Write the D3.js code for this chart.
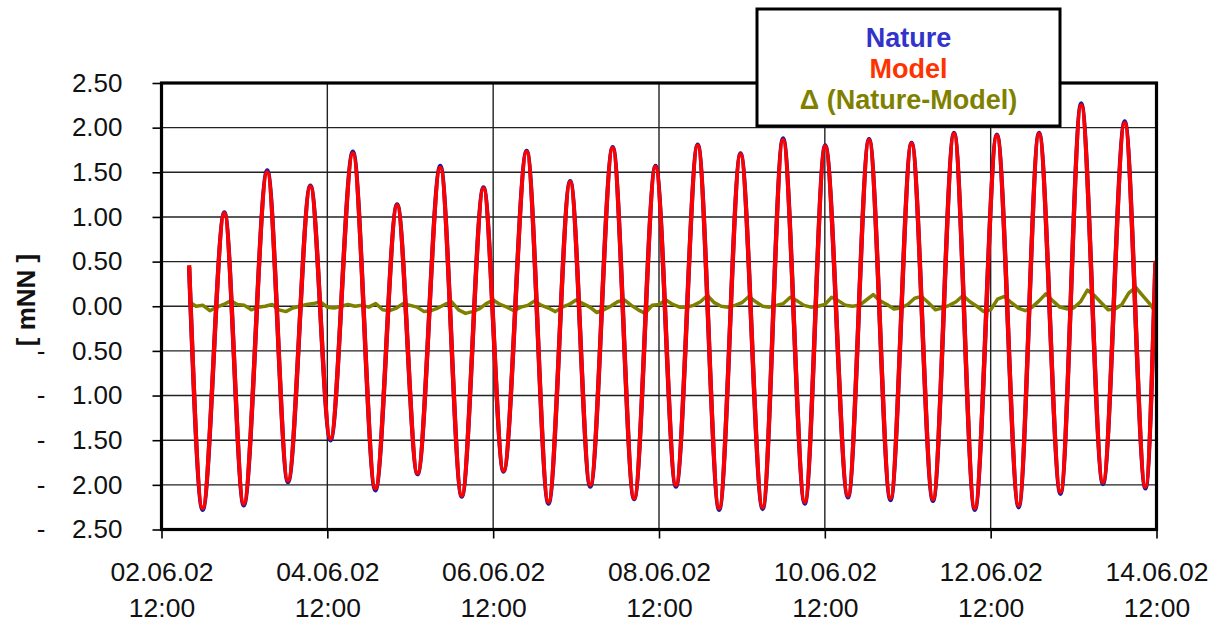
<!DOCTYPE html>
<html>
<head>
<meta charset="utf-8">
<script src="https://cdn.jsdelivr.net/npm/d3@7"></script>
<style>
  body { margin: 0; background: #fff; }
  text { font-family: "Liberation Sans", Arial, sans-serif; }
</style>
</head>
<body>
<div class="chart"></div>
<script>
// water level, hours after 02.06.02 12:00 (high / low water turning points)
var tideHours = [8, 11.9, 18.2, 23.8, 30.6, 36.6, 43.1, 48.9, 55.4, 61.9, 68.2, 74.1, 80.7, 86.9, 93.2, 99.0,
  105.7, 112.0, 118.3, 124.1, 130.6, 136.8, 143.0, 148.9, 155.2, 161.4, 167.6, 174.0, 179.9, 186.2, 192.1,
  198.7, 204.8, 211.0, 217.1, 223.3, 229.4, 235.4, 241.8, 248.1, 254.0, 260.2, 266.2, 272.5, 278.8, 284.8, 287.7];

var modelLevel = [0.46, -2.26, 1.04, -2.21, 1.50, -1.95, 1.34, -1.48, 1.71, -2.04, 1.13, -1.87, 1.55, -2.12, 1.32, -1.84,
  1.73, -2.19, 1.39, -2.00, 1.77, -2.15, 1.56, -2.00, 1.80, -2.26, 1.70, -2.25, 1.86, -2.19, 1.79,
  -2.12, 1.86, -2.15, 1.82, -2.16, 1.93, -2.26, 1.91, -2.23, 1.93, -2.08, 2.25, -1.97, 2.05, -2.02, 0.51];

var natureLevel = [0.44, -2.28, 1.05, -2.23, 1.52, -1.97, 1.35, -1.50, 1.73, -2.06, 1.14, -1.88, 1.57, -2.13, 1.33, -1.85,
  1.74, -2.21, 1.40, -2.02, 1.78, -2.16, 1.57, -2.02, 1.81, -2.28, 1.71, -2.27, 1.88, -2.21, 1.80,
  -2.14, 1.87, -2.17, 1.83, -2.18, 1.94, -2.28, 1.92, -2.25, 1.94, -2.10, 2.27, -1.99, 2.07, -2.04, 0.48];

// difference Nature-Model, one value every 2 hours from hour 8
var deltaStartHour = 8;
var deltaStepHours = 2;
var deltaLevel = [0.05, 0.00, 0.01, -0.05, -0.01, 0.02, 0.06, 0.02, 0.01, -0.04, -0.01, 0.00, 0.02, -0.04, -0.06, -0.02,
  0.00, 0.02, 0.03, 0.05, -0.01, -0.02, 0.00, 0.02, 0.00, 0.01, -0.01, 0.03, -0.04, -0.05, -0.02, 0.03,
  0.01, -0.01, -0.06, -0.05, -0.02, 0.02, 0.05, -0.04, -0.08, -0.06, -0.03, 0.03, 0.07, 0.02, -0.01, -0.05,
  -0.01, 0.01, 0.06, 0.01, -0.02, -0.06, -0.01, 0.02, 0.07, 0.03, -0.01, -0.07, -0.04, 0.00, 0.05, 0.07,
  0.01, -0.04, -0.08, 0.01, 0.02, 0.07, 0.02, -0.01, -0.01, 0.01, 0.05, 0.12, 0.04, 0.00, -0.01, 0.01,
  0.04, 0.11, 0.05, 0.00, -0.01, 0.01, 0.03, 0.10, 0.06, 0.01, -0.01, 0.00, 0.02, 0.10, 0.06, 0.01,
  0.00, 0.01, 0.07, 0.13, 0.06, 0.02, -0.03, -0.02, 0.02, 0.09, 0.11, 0.04, -0.04, -0.02, 0.01, 0.05,
  0.12, 0.05, 0.00, -0.06, -0.04, 0.08, 0.11, 0.04, -0.02, -0.05, -0.01, 0.06, 0.14, 0.06, -0.01, -0.03,
  -0.02, 0.05, 0.18, 0.12, 0.04, -0.04, -0.03, 0.02, 0.15, 0.21, 0.12, 0.03, -0.08];

var yTicks = [-2.5, -2, -1.5, -1, -0.5, 0, 0.5, 1, 1.5, 2, 2.5];
var xTickDays = [2, 4, 6, 8, 10, 12, 14];
var legendLabels = ["Nature", "Model", "\u0394 (Nature-Model)"];
var axisTitle = "[ mNN ]";

var svgWidth = 1221;
var svgHeight = 623;
var margin = { top: 83, right: 64.5, bottom: 93.5, left: 161.5 };
var width = svgWidth - margin.left - margin.right;
var height = svgHeight - margin.top - margin.bottom;

var colors = { nature: "#1a1a9c", model: "#ff0000", delta: "#808000" };
var legendColors = ["#3333cc", "#ff3300", "#808000"];

var t0 = new Date(2002, 5, 2, 12);
function hourDate(h) { return new Date(t0.getTime() + h * 3600e3); }

var svg = d3.select(".chart").append("svg")
  .attr("width", svgWidth)
  .attr("height", svgHeight);

var chartGroup = svg.append("g")
  .attr("transform", `translate(${margin.left}, ${margin.top})`);

var x = d3.scaleTime()
  .domain([t0, new Date(2002, 5, 14, 12)])
  .range([0, width]);

var y = d3.scaleLinear()
  .domain([-2.5, 2.5])
  .range([height, 0]);

var xTickDates = xTickDays.map(d => new Date(2002, 5, d, 12));

// grid
chartGroup.append("g")
  .selectAll("line")
  .data(yTicks)
  .enter()
  .append("line")
  .attr("x1", 0).attr("x2", width)
  .attr("y1", d => y(d)).attr("y2", d => y(d))
  .attr("stroke", "#222").attr("stroke-width", 1.4);

chartGroup.append("g")
  .selectAll("line")
  .data(xTickDates)
  .enter()
  .append("line")
  .attr("x1", d => x(d)).attr("x2", d => x(d))
  .attr("y1", 0).attr("y2", height)
  .attr("stroke", "#222").attr("stroke-width", 1.4);

// series
svg.append("defs").append("clipPath").attr("id", "plotClip")
  .append("rect").attr("width", width).attr("height", height);

var series = chartGroup.append("g").attr("clip-path", "url(#plotClip)");

var deltaData = deltaLevel.map((v, i) => ({ t: hourDate(deltaStartHour + i * deltaStepHours), v: v }));
var natureData = tideHours.map((h, i) => ({ t: hourDate(h), v: natureLevel[i] }));
var modelData = tideHours.map((h, i) => ({ t: hourDate(h), v: modelLevel[i] }));

var smoothLine = d3.line()
  .x(d => x(d.t))
  .y(d => y(d.v))
  .curve(d3.curveMonotoneX);

var plainLine = d3.line()
  .x(d => x(d.t))
  .y(d => y(d.v));

series.append("path")
  .datum(deltaData)
  .attr("d", plainLine)
  .attr("fill", "none")
  .attr("stroke", colors.delta)
  .attr("stroke-width", 3.5)
  .attr("stroke-linejoin", "round");

series.append("path")
  .datum(natureData)
  .attr("d", smoothLine)
  .attr("fill", "none")
  .attr("stroke", colors.nature)
  .attr("stroke-width", 4.4);

series.append("path")
  .datum(modelData)
  .attr("d", smoothLine)
  .attr("fill", "none")
  .attr("stroke", colors.model)
  .attr("stroke-width", 4.2);

// plot frame
chartGroup.append("rect")
  .attr("width", width)
  .attr("height", height)
  .attr("fill", "none")
  .attr("stroke", "#000")
  .attr("stroke-width", 3.2);

// y axis
var yAxis = chartGroup.append("g")
  .call(d3.axisLeft(y).tickValues(yTicks).tickSize(9).tickPadding(30)
    .tickFormat(d => d3.format(".2f")(Math.abs(d))));
yAxis.select(".domain").remove();
yAxis.selectAll(".tick line").attr("stroke", "#000").attr("stroke-width", 1.6);
yAxis.selectAll(".tick text")
  .attr("font-size", 26)
  .attr("fill", "#111")
  .style("font-family", "'Liberation Sans', Arial, sans-serif");
yAxis.selectAll(".tick")
  .filter(d => d < 0)
  .append("text")
  .attr("x", -116)
  .attr("dy", "0.32em")
  .attr("font-size", 26)
  .attr("fill", "#111")
  .text("-");

// x axis
var xAxis = chartGroup.append("g")
  .attr("transform", `translate(0, ${height})`)
  .call(d3.axisBottom(x).tickValues(xTickDates).tickSize(9).tickFormat(""));
xAxis.select(".domain").remove();
xAxis.selectAll(".tick line").attr("stroke", "#000").attr("stroke-width", 1.6);
xAxis.selectAll(".tick").each(function (d) {
  var label = d3.select(this).append("text")
    .attr("fill", "#111")
    .attr("font-size", 26.5)
    .attr("text-anchor", "middle");
  label.append("tspan").attr("x", 0).attr("y", 51).text(d3.timeFormat("%d.%m.%y")(d));
  label.append("tspan").attr("x", 0).attr("y", 87).text(d3.timeFormat("%H:%M")(d));
});

// axis title
svg.append("text")
  .attr("transform", "translate(35, 300) rotate(-90)")
  .attr("text-anchor", "middle")
  .attr("font-size", 26)
  .attr("font-weight", "bold")
  .attr("fill", "#111")
  .text(axisTitle);

// legend
var legend = svg.append("g").attr("transform", "translate(757, 9)");
legend.append("rect")
  .attr("width", 303)
  .attr("height", 117)
  .attr("fill", "#fff")
  .attr("stroke", "#000")
  .attr("stroke-width", 3);
legend.selectAll("text")
  .data(legendLabels)
  .enter()
  .append("text")
  .attr("x", 151.5)
  .attr("y", (d, i) => 38 + i * 31)
  .attr("text-anchor", "middle")
  .attr("font-size", 27)
  .attr("font-weight", "bold")
  .attr("fill", (d, i) => legendColors[i])
  .text(d => d);
</script>
</body>
</html>
